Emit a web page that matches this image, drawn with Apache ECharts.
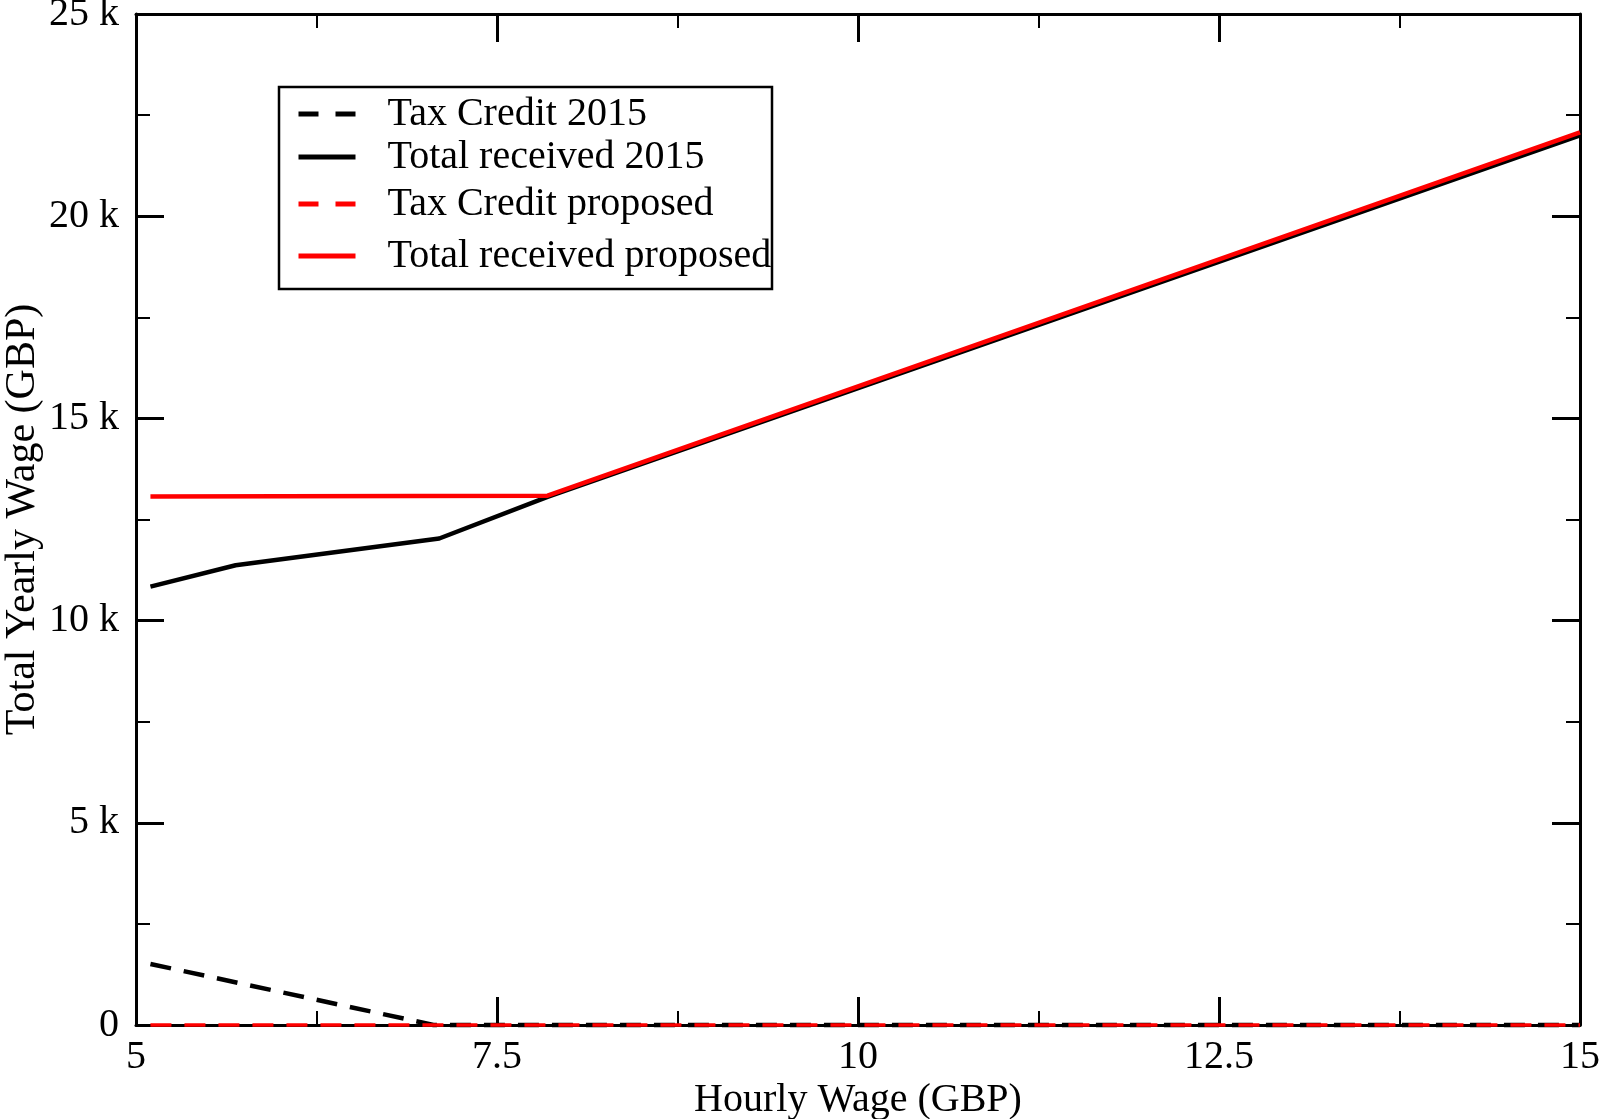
<!DOCTYPE html>
<html>
<head>
<meta charset="utf-8">
<script src="https://cdn.jsdelivr.net/npm/echarts@6/dist/echarts.min.js"></script>
<style>
  html, body { margin: 0; padding: 0; background: #fff; }
  #chart { width: 1600px; height: 1119px; }
</style>
</head>
<body>
<div id="chart"></div>
<script>
// hourly wage (GBP) / yearly amount (GBP)
const wageTaxCredit2015 = [5.1, 7.06, 15]
const taxCredit2015 = [1510, 0, 0]
const wageTotal2015 = [5.1, 5.69, 7.1, 7.85, 15]
const total2015 = [10840, 11370, 12030, 13060, 22000]
const wageTaxCreditProposed = [5.1, 15]
const taxCreditProposed = [0, 0]
const wageTotalProposed = [5.1, 7.85, 15]
const totalProposed = [13070, 13090, 22070]

const seriesNames = ['Tax Credit 2015', 'Total received 2015', 'Tax Credit proposed', 'Total received proposed']
const xTicks = [5, 7.5, 10, 12.5, 15]
const yTicks = [0, 5000, 10000, 15000, 20000, 25000]

const FONT = 'Liberation Serif'
const dash = [21, 13]

function pairs (xs, ys) {
  return xs.map((x, i) => [x, ys[i]])
}

const chart = echarts.init(document.getElementById('chart'))

const tickCommon = {
  axisLine: { show: true, onZero: false, lineStyle: { color: '#000', width: 3 } },
  axisTick: { show: true, inside: true, length: 28, lineStyle: { color: '#000', width: 3 } },
  minorTick: { show: true, splitNumber: 2, length: 14, lineStyle: { color: '#000', width: 2 } },
  splitLine: { show: false }
}

function xAxisDef (pos, showLabel) {
  return Object.assign({
    type: 'value',
    position: pos,
    min: xTicks[0],
    max: xTicks[xTicks.length - 1],
    interval: 2.5,
    axisLabel: {
      show: showLabel,
      color: '#000',
      fontFamily: FONT,
      fontSize: 40,
      margin: 12
    }
  }, tickCommon)
}

function yAxisDef (pos, showLabel) {
  return Object.assign({
    type: 'value',
    position: pos,
    min: yTicks[0],
    max: yTicks[yTicks.length - 1],
    interval: 5000,
    axisLabel: {
      show: showLabel,
      color: '#000',
      fontFamily: FONT,
      fontSize: 40,
      margin: 17,
      formatter (v) {
        return v === 0 ? '0' : (v / 1000) + ' k'
      }
    }
  }, tickCommon)
}

const xBottom = xAxisDef('bottom', true)
xBottom.name = 'Hourly Wage (GBP)'
xBottom.nameLocation = 'middle'
xBottom.nameGap = 55
xBottom.nameMoveOverlap = false
xBottom.nameTextStyle = { color: '#000', fontFamily: FONT, fontSize: 40 }

const yLeft = yAxisDef('left', true)
yLeft.name = 'Total Yearly Wage (GBP)'
yLeft.nameLocation = 'middle'
yLeft.nameGap = 92
yLeft.nameMoveOverlap = false
yLeft.nameTextStyle = { color: '#000', fontFamily: FONT, fontSize: 42 }

// legend entries sit at slightly uneven heights in the original
const legendTops = [114, 157, 204, 256]
const legendDash = [[20, 17], 'solid', [20, 17], 'solid']
const legends = seriesNames.map((name, i) => ({
  data: [name],
  left: 296,
  top: legendTops[i] - 20,
  padding: 0,
  itemWidth: 57,
  itemHeight: 14,
  selectedMode: false,
  itemStyle: { color: 'rgba(0,0,0,0)', borderWidth: 0, opacity: 0 },
  lineStyle: { width: 5, type: legendDash[i] },
  textStyle: {
    color: '#000',
    fontFamily: FONT,
    fontSize: 40,
    lineHeight: 40,
    padding: [0, 0, 0, 27]
  }
}))

const option = {
  animation: false,
  backgroundColor: '#fff',
  grid: { left: 136, right: 20, top: 14, bottom: 94, containLabel: false, outerBoundsMode: 'none' },
  xAxis: [xBottom, xAxisDef('top', false)],
  yAxis: [yLeft, yAxisDef('right', false)],
  legend: legends,
  graphic: [{
    type: 'rect',
    shape: { x: 279, y: 87, width: 493, height: 202 },
    style: { fill: 'none', stroke: '#000', lineWidth: 2.5 },
    z: 100
  }],
  series: [
    {
      name: seriesNames[0],
      type: 'line',
      symbol: 'none',
      clip: false,
      data: pairs(wageTaxCredit2015, taxCredit2015),
      lineStyle: { color: '#000', width: 4.5, type: dash },
      itemStyle: { color: '#000' }
    },
    {
      name: seriesNames[1],
      type: 'line',
      symbol: 'none',
      clip: false,
      data: pairs(wageTotal2015, total2015),
      lineStyle: { color: '#000', width: 4.5 },
      itemStyle: { color: '#000' }
    },
    {
      name: seriesNames[2],
      type: 'line',
      symbol: 'none',
      clip: false,
      data: pairs(wageTaxCreditProposed, taxCreditProposed),
      lineStyle: { color: '#ff0000', width: 3.5, type: dash },
      itemStyle: { color: '#ff0000' }
    },
    {
      name: seriesNames[3],
      type: 'line',
      symbol: 'none',
      clip: false,
      data: pairs(wageTotalProposed, totalProposed),
      lineStyle: { color: '#ff0000', width: 4.5 },
      itemStyle: { color: '#ff0000' }
    }
  ]
}

chart.setOption(option)
</script>
</body>
</html>
